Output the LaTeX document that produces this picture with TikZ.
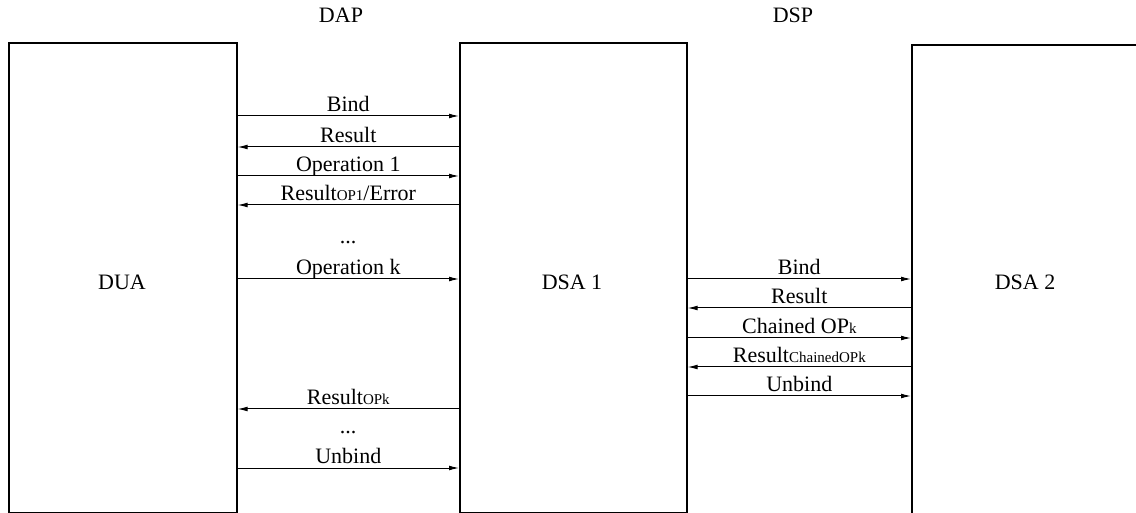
\documentclass[tikz,border=0pt]{standalone}
\usepackage{fontspec}
\setmainfont{Liberation Serif}
\usetikzlibrary{arrows.meta}
\begin{document}
\begin{tikzpicture}[x=0.5pt,y=-0.5pt,
  box/.style={draw, line width=0.8pt, inner sep=0pt},
  msg/.style={-{Latex[length=5pt,width=2.4pt]}, line width=0.5pt},
  lbl/.style={anchor=base, inner sep=0pt, yshift=2.2pt, font=\fontsize{11}{13}\selectfont},
  txt/.style={inner sep=0pt, font=\fontsize{11}{13}\selectfont}]
\useasboundingbox (0,0) rectangle (1136,513);
\clip (0,0) rectangle (1136,513);
% boxes
\node[box, minimum width=114pt, minimum height=235pt, anchor=north west] (dua) at (8,42) {};
\node[box, minimum width=113.5pt, minimum height=235pt, anchor=north west] (dsa1) at (459,42) {};
\node[box, minimum width=130pt, minimum height=250pt, anchor=north west] (dsa2) at (911,44) {};
\node[txt] (tdua) at (122,282) {DUA};
\node[txt] (tdsa1) at (572,282) {DSA 1};
\node[txt] (tdsa2) at (1025,282) {DSA 2};
\node[txt] (dap) at (341,15) {DAP};
\node[txt] (dsp) at (793,15) {DSP};
% DAP messages
\draw[msg] (dua.east |- {(0,116)}) -- node[lbl]{Bind} (dsa1.west |- {(0,116)});
\draw[msg] (dsa1.west |- {(0,147)}) -- node[lbl]{Result} (dua.east |- {(0,147)});
\draw[msg] (dua.east |- {(0,176)}) -- node[lbl]{Operation 1} (dsa1.west |- {(0,176)});
\draw[msg] (dsa1.west |- {(0,205)}) -- node[lbl]{Result{\fontsize{7.5}{9}\selectfont OP1}/Error} (dua.east |- {(0,205)});
\node[txt] (dots1) at (348,243) {...};
\draw[msg] (dua.east |- {(0,279)}) -- node[lbl]{Operation k} (dsa1.west |- {(0,279)});
\draw[msg] (dsa1.west |- {(0,409)}) -- node[lbl]{Result{\fontsize{7.5}{9}\selectfont OPk}} (dua.east |- {(0,409)});
\node[txt] (dots2) at (348,433) {...};
\draw[msg] (dua.east |- {(0,468)}) -- node[lbl]{Unbind} (dsa1.west |- {(0,468)});
% DSP messages
\draw[msg] (dsa1.east |- {(0,279)}) -- node[lbl]{Bind} (dsa2.west |- {(0,279)});
\draw[msg] (dsa2.west |- {(0,308)}) -- node[lbl]{Result} (dsa1.east |- {(0,308)});
\draw[msg] (dsa1.east |- {(0,338)}) -- node[lbl]{Chained OP{\fontsize{7.5}{9}\selectfont k}} (dsa2.west |- {(0,338)});
\draw[msg] (dsa2.west |- {(0,367)}) -- node[lbl]{Result{\fontsize{7.5}{9}\selectfont ChainedOPk}} (dsa1.east |- {(0,367)});
\draw[msg] (dsa1.east |- {(0,396)}) -- node[lbl]{Unbind} (dsa2.west |- {(0,396)});
\end{tikzpicture}
\end{document}
